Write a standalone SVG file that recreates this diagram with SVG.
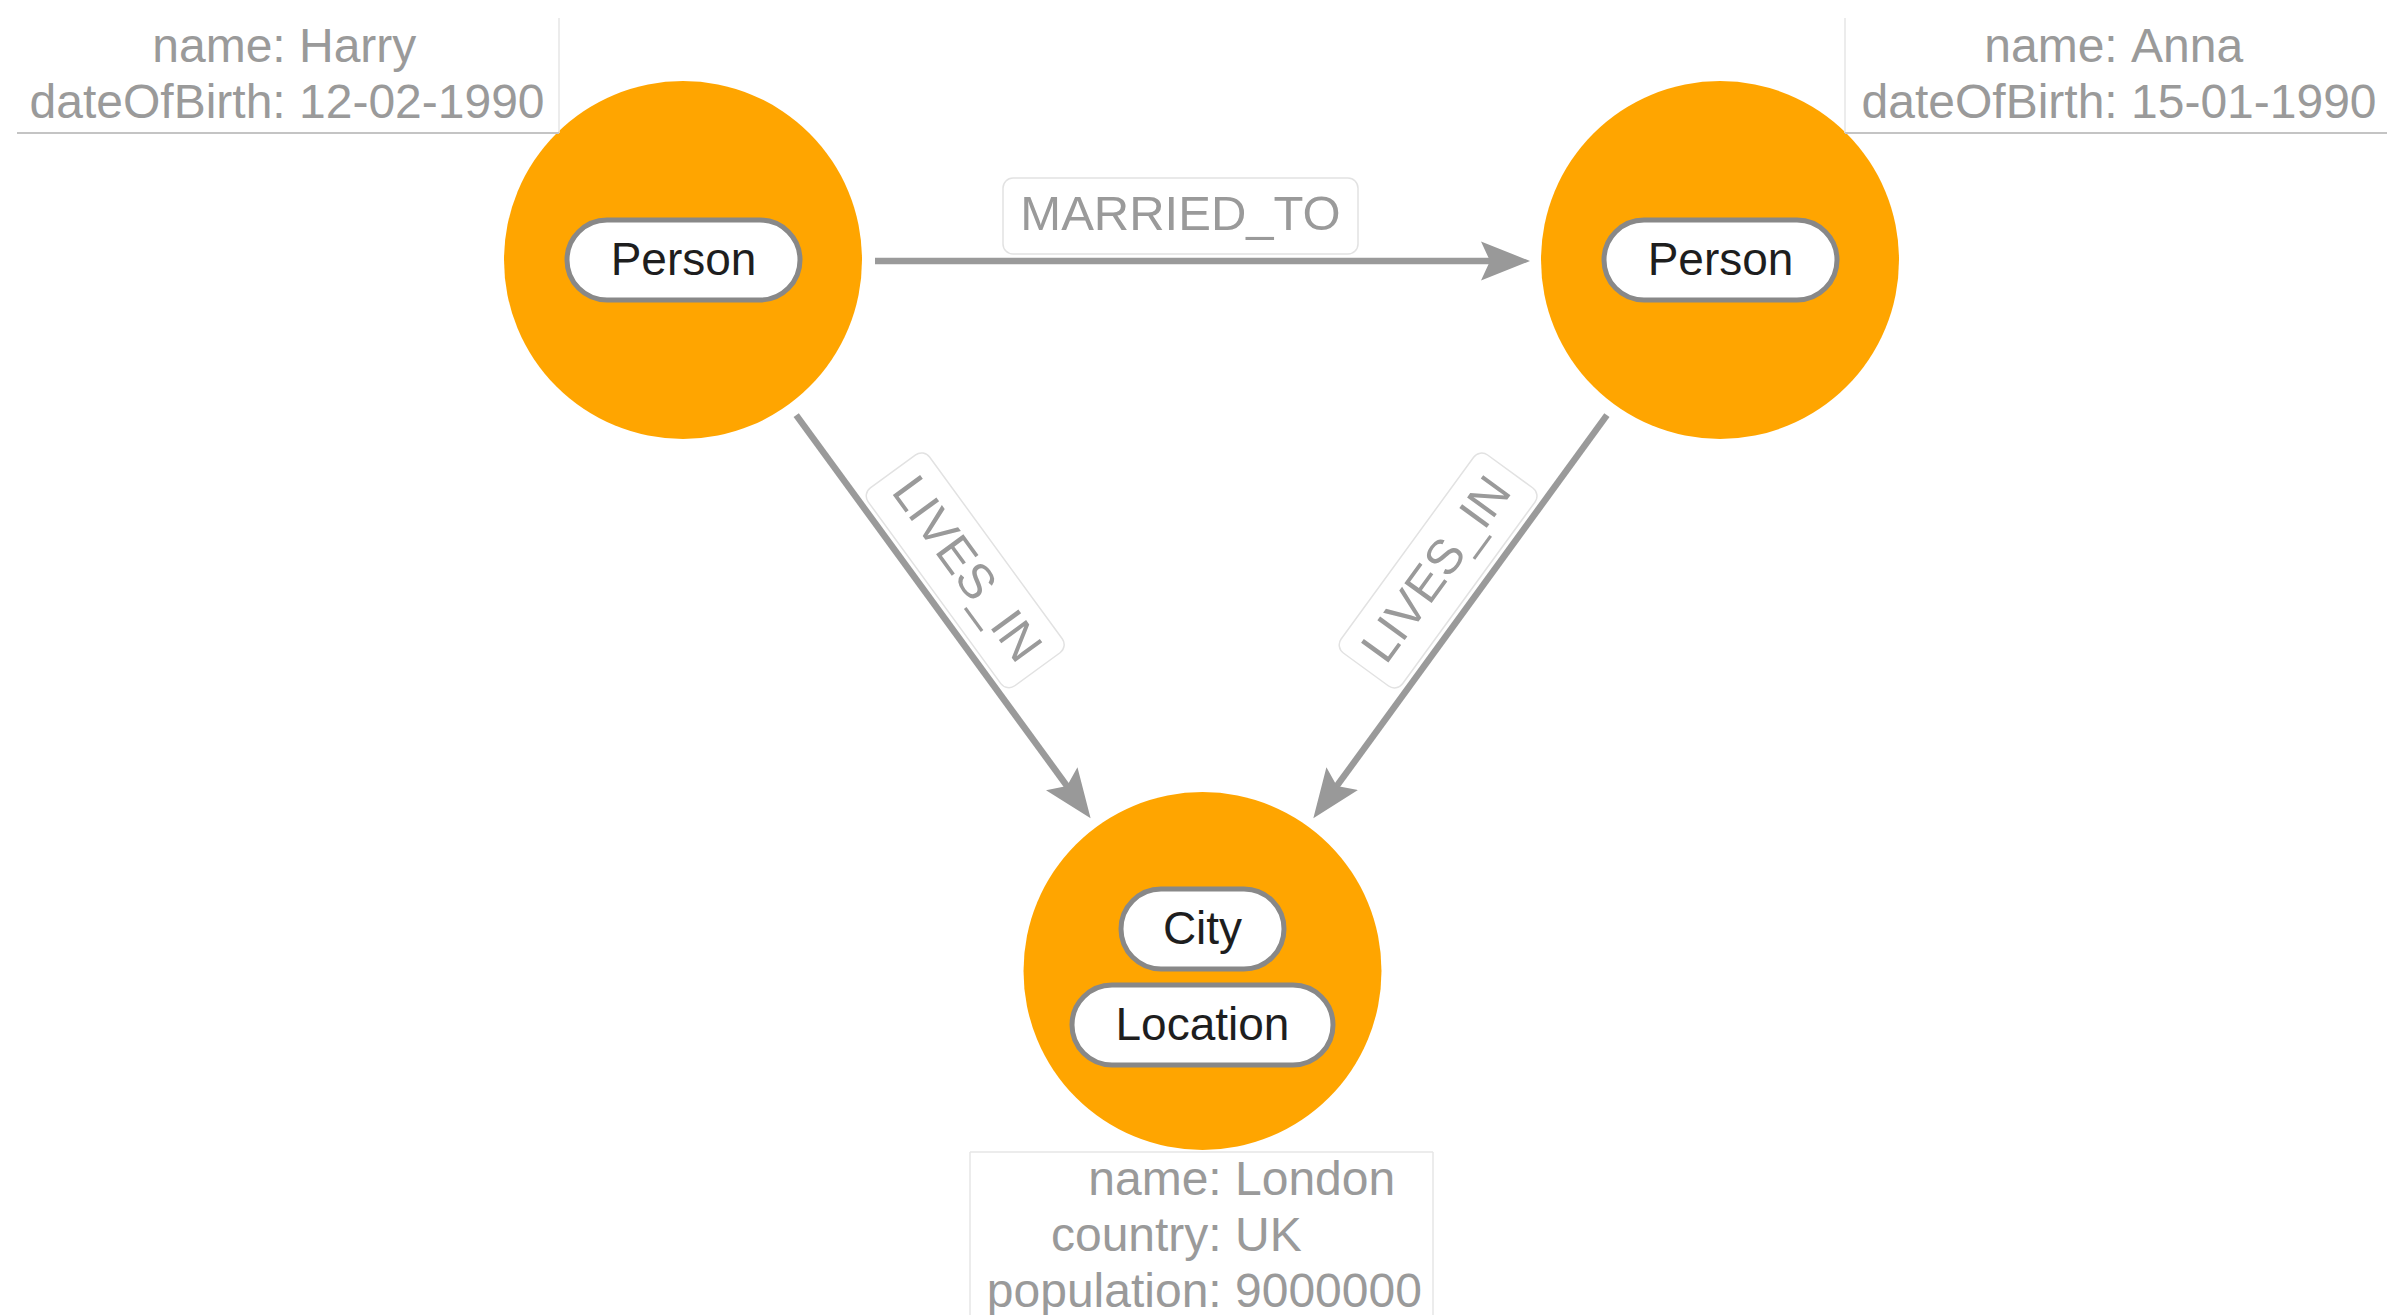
<svg xmlns="http://www.w3.org/2000/svg" width="2387" height="1315" viewBox="0 0 2387 1315">
  <defs>
    <marker id="arrow" viewBox="0 0 50 40" markerWidth="50" markerHeight="40" refX="10" refY="20" orient="auto" markerUnits="userSpaceOnUse">
      <path d="M49,20 L0,0.5 L9,20 L0,39.5 Z" fill="#999999"/>
    </marker>
  </defs>
  <style>
    text { font-family: "Liberation Sans", Arial, sans-serif; }
    .node { fill: #FFA500; }
    .pill { fill: #ffffff; stroke: #888888; stroke-width: 5; }
    .pill-text { font-size: 46px; fill: #1e1e1e; text-anchor: middle; }
    .prop { font-size: 48px; fill: #9a9a9a; }
    .key { text-anchor: end; }
    .val { text-anchor: start; }
    .edge { stroke: #9a9a9a; stroke-width: 6.5; fill: none; marker-end: url(#arrow); }
    .edge-box { fill: #ffffff; stroke: #e2e2e2; stroke-width: 1.5; }
    .edge-text { font-size: 49px; fill: #9a9a9a; text-anchor: middle; }
    .prop-side { stroke: #e6e6e6; stroke-width: 1.5; }
    .prop-bottom { stroke: #c4c4c4; stroke-width: 2; }
  </style>

  <rect width="2387" height="1315" fill="#ffffff"/>

  <!-- connectors -->
  <g id="connectors">
    <g id="married-to">
      <line class="edge" x1="875" y1="261" x2="1491" y2="261"/>
      <rect class="edge-box" x="1003" y="178" width="355" height="76" rx="10"/>
      <text class="edge-text" x="1180.5" y="230">MARRIED_TO</text>
    </g>
    <g id="harry-lives-in">
      <line class="edge" x1="796.2" y1="415.1" x2="1067.6" y2="786.8"/>
      <g transform="translate(965.2,570.3) rotate(53.87)">
        <rect class="edge-box" x="-122.5" y="-38" width="245" height="76" rx="10"/>
        <text class="edge-text" x="0" y="14">LIVES_IN</text>
      </g>
    </g>
    <g id="anna-lives-in">
      <line class="edge" x1="1606.9" y1="415.2" x2="1336.3" y2="786.7"/>
      <g transform="translate(1438.1,570.5) rotate(-53.92)">
        <rect class="edge-box" x="-122.5" y="-38" width="245" height="76" rx="10"/>
        <text class="edge-text" x="0" y="14">LIVES_IN</text>
      </g>
    </g>
  </g>

  <!-- Person: Harry -->
  <g id="node-harry">
    <circle class="node" cx="683" cy="260" r="179"/>
    <rect class="pill" x="567" y="220" width="233" height="80" rx="40"/>
    <text class="pill-text" x="683.5" y="275">Person</text>
    <g id="props-harry">
      <line class="prop-side" x1="559" y1="18" x2="559" y2="133"/>
      <line class="prop-bottom" x1="17" y1="133" x2="559" y2="133"/>
      <text class="prop key" x="285.7" y="62">name:</text>
      <text class="prop val" x="299" y="62">Harry</text>
      <text class="prop key" x="285.7" y="118">dateOfBirth:</text>
      <text class="prop val" x="299" y="118">12-02-1990</text>
    </g>
  </g>

  <!-- Person: Anna -->
  <g id="node-anna">
    <circle class="node" cx="1720" cy="260" r="179"/>
    <rect class="pill" x="1604" y="220" width="233" height="80" rx="40"/>
    <text class="pill-text" x="1720.5" y="275">Person</text>
    <g id="props-anna">
      <line class="prop-side" x1="1845" y1="18" x2="1845" y2="133"/>
      <line class="prop-bottom" x1="1845" y1="133" x2="2387" y2="133"/>
      <text class="prop key" x="2117.7" y="62">name:</text>
      <text class="prop val" x="2131" y="62">Anna</text>
      <text class="prop key" x="2117.7" y="118">dateOfBirth:</text>
      <text class="prop val" x="2131" y="118">15-01-1990</text>
    </g>
  </g>

  <!-- City / Location: London -->
  <g id="node-london">
    <circle class="node" cx="1202.5" cy="971" r="179"/>
    <rect class="pill" x="1121" y="889" width="163" height="80" rx="40"/>
    <text class="pill-text" x="1202.5" y="944">City</text>
    <rect class="pill" x="1072" y="985" width="261" height="80" rx="40"/>
    <text class="pill-text" x="1202.5" y="1040">Location</text>
    <g id="props-london">
      <line class="prop-side" x1="970" y1="1152" x2="1433" y2="1152"/>
      <line class="prop-side" x1="970" y1="1152" x2="970" y2="1315"/>
      <line class="prop-side" x1="1433" y1="1152" x2="1433" y2="1315"/>
      <text class="prop key" x="1221.7" y="1195">name:</text>
      <text class="prop val" x="1235" y="1195">London</text>
      <text class="prop key" x="1221.7" y="1251">country:</text>
      <text class="prop val" x="1235" y="1251">UK</text>
      <text class="prop key" x="1221.7" y="1307">population:</text>
      <text class="prop val" x="1235" y="1307">9000000</text>
    </g>
  </g>
</svg>
